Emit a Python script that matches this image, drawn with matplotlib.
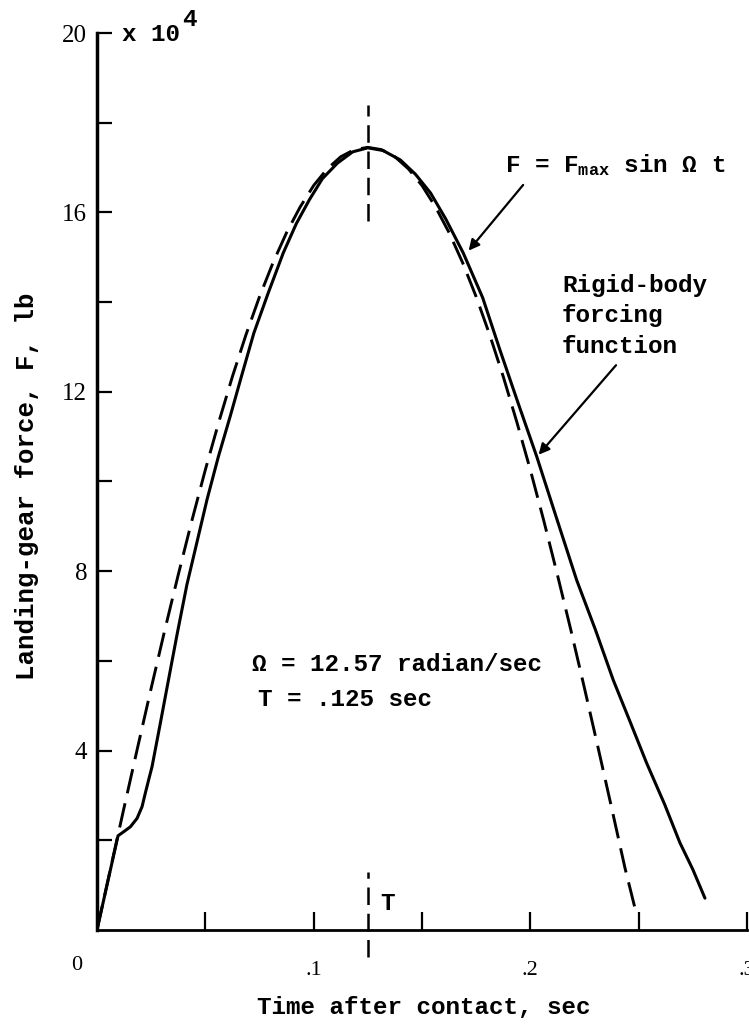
import matplotlib
matplotlib.use('Agg')
import matplotlib.pyplot as plt

# typewriter look of the original report figure
MONO = ['Liberation Mono', 'DejaVu Sans Mono']
SERIF = ['Liberation Serif', 'DejaVu Serif']
plt.rcParams['mathtext.fontset'] = 'custom'
plt.rcParams['mathtext.rm'] = 'Liberation Mono:bold'
plt.rcParams['mathtext.it'] = 'Liberation Mono:bold'

# rigid-body forcing function (solid), F in 1e4 lb
rigid_t = [0, 0.003, 0.006, 0.0097, 0.0123, 0.0154, 0.0185, 0.0208, 0.0223,
           0.0238, 0.0254, 0.029, 0.0325, 0.037, 0.0415, 0.0508, 0.056,
           0.0614, 0.067, 0.0724, 0.079, 0.086, 0.092, 0.098, 0.104, 0.111,
           0.118, 0.125, 0.132, 0.140, 0.147, 0.154, 0.161, 0.169, 0.178,
           0.186, 0.194, 0.203, 0.212, 0.2214, 0.230, 0.2383, 0.246, 0.2537,
           0.262, 0.269, 0.275, 0.2806]
rigid_F = [0, 0.65, 1.3, 2.1, 2.19, 2.30, 2.49, 2.75, 3.05,
           3.34, 3.64, 4.55, 5.45, 6.6, 7.7, 9.6, 10.55,
           11.44, 12.4, 13.31, 14.2, 15.1, 15.75, 16.28, 16.75, 17.1,
           17.35, 17.44, 17.38, 17.17, 16.85, 16.43, 15.85, 15.1, 14.1,
           12.93, 11.8, 10.55, 9.2, 7.8, 6.7, 5.57, 4.65, 3.72,
           2.8, 1.95, 1.35, 0.71]

# F = Fmax sin(Omega t) approximation (dashed)
sine_t = [0, 0.00625, 0.0125, 0.01875, 0.025, 0.03125, 0.0375, 0.04375,
          0.05, 0.05625, 0.0625, 0.06875, 0.075, 0.08125, 0.0875, 0.09375,
          0.1, 0.10625, 0.1125, 0.11875, 0.125, 0.13125, 0.1375, 0.14375,
          0.15, 0.15625, 0.1625, 0.16875, 0.175, 0.18125, 0.1875, 0.19375,
          0.2, 0.20625, 0.2125, 0.21875, 0.225, 0.23125, 0.2375, 0.24375,
          0.2485]
sine_F = [0, 1.37, 2.73, 4.07, 5.39, 6.68, 7.92, 9.12,
          10.26, 11.33, 12.34, 13.27, 14.12, 14.88, 15.55, 16.12,
          16.60, 16.97, 17.24, 17.40, 17.45, 17.40, 17.24, 16.97,
          16.60, 16.12, 15.55, 14.88, 14.12, 13.27, 12.34, 11.33,
          10.26, 9.12, 7.92, 6.68, 5.39, 4.07, 2.73, 1.37,
          0.45]

T_period = 0.125
y_ticks = [2, 4, 6, 8, 10, 12, 14, 16, 18, 20]
y_labels = ['', '4', '', '8', '', '12', '', '16', '', '20']
x_ticks = [0.05, 0.1, 0.15, 0.2, 0.25, 0.3]
x_labels = ['', '.1', '', '.2', '', '.3']

txt = dict(family=MONO, fontsize=17.5, fontweight='bold')

fig = plt.figure(figsize=(7.49, 10.25), dpi=100)
ax = fig.add_axes([0.1295, 0.0927, 0.8678, 0.8751])

ax.plot(rigid_t, rigid_F, color='black', lw=2.2, solid_capstyle='round',
        solid_joinstyle='round')
ax.plot(sine_t, sine_F, color='black', lw=2.1, dashes=(8.5, 3.5))

# vertical marker at t = T
ax.plot([T_period, T_period], [15.8, 18.4], color='black', lw=1.8,
        dashes=(7, 3.5))
ax.plot([T_period, T_period], [-0.6, 1.3], color='black', lw=1.8,
        dashes=(7, 3.5), clip_on=False)
ax.text(0.1306, 0.6, 'T', va='center', ha='left', **txt)

ax.set_xlim(0, 0.3)
ax.set_ylim(0, 20)
for side in ('top', 'right'):
    ax.spines[side].set_visible(False)
ax.spines['left'].set_linewidth(2.5)
ax.spines['bottom'].set_linewidth(2.0)

ax.set_yticks(y_ticks)
ax.set_yticklabels(y_labels, family=SERIF, fontsize=18)
ax.set_xticks(x_ticks)
ax.set_xticklabels(x_labels, family=SERIF, fontsize=16)
ax.tick_params(axis='y', direction='in', length=11, width=1.6, pad=7)
ax.tick_params(axis='x', direction='in', length=13, width=1.6, pad=22)
ax.text(-0.0095, -0.8, '0', family=SERIF, fontsize=16, ha='center',
        va='center', clip_on=False)

ax.text(0.0115, 19.96, 'x 10', va='center', ha='left', clip_on=False, **txt)
ax.text(0.0395, 20.3, '4', va='center', ha='left', clip_on=False, **txt)

# annotations
ax.text(0.1883, 17.06, r'F = F$_{\mathrm{max}}$ sin Ω t', va='center',
        ha='left', **txt)
ax.annotate('', xy=(0.1707, 15.1), xytext=(0.1975, 16.66),
            arrowprops=dict(arrowstyle='-|>', color='black', lw=1.6,
                            mutation_scale=16))
ax.text(0.2146, 14.62, 'Rigid-body\nforcing\nfunction', va='top',
        ha='left', linespacing=1.4, **txt)
ax.annotate('', xy=(0.203, 10.55), xytext=(0.2404, 12.64),
            arrowprops=dict(arrowstyle='-|>', color='black', lw=1.6,
                            mutation_scale=16))
ax.text(0.0715, 5.91, 'Ω = 12.57 radian/sec', va='center', ha='left', **txt)
ax.text(0.0743, 5.13, 'T = .125 sec', va='center', ha='left', **txt)

fig.text(0.036, 0.526, 'Landing-gear force, F, lb', family=MONO,
         fontsize=18.5, fontweight='bold', rotation=90, ha='center',
         va='center')
fig.text(0.5654, 0.0166, 'Time after contact, sec', family=MONO,
         fontsize=17.5, fontweight='bold', ha='center', va='center')

fig.savefig('out.png', dpi=100)
